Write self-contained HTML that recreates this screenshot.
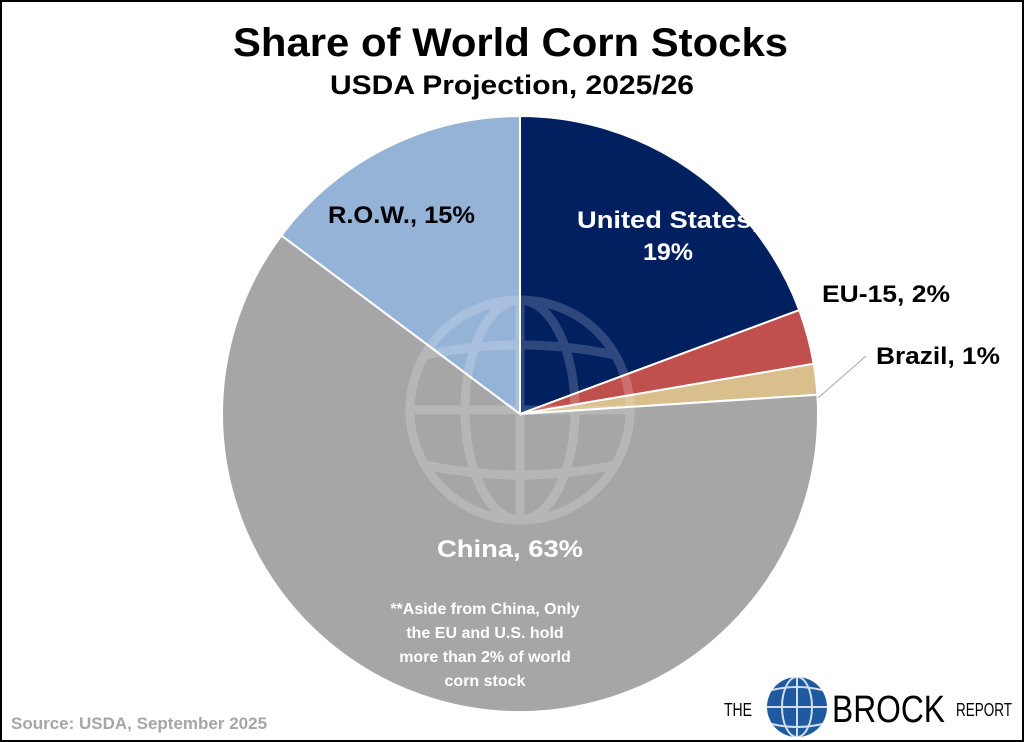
<!DOCTYPE html>
<html><head><style>
body{margin:0;background:#fff;}
svg{display:block;font-family:"Liberation Sans",sans-serif;}
</style></head><body>
<svg width="1024" height="742" viewBox="0 0 1024 742">
<rect x="1" y="1" width="1022" height="740" fill="#fff" stroke="#000" stroke-width="2"/>
<text x="233" y="56" font-size="40" font-weight="bold" textLength="555" lengthAdjust="spacingAndGlyphs">Share of World Corn Stocks</text>
<text x="330" y="94" font-size="27" font-weight="bold" textLength="364" lengthAdjust="spacingAndGlyphs">USDA Projection, 2025/26</text>
<g stroke="#fff" stroke-width="2">
<path d="M520,414 L520,116 A298,298 0 0 1 799.3,310.1 Z" fill="#002060"/>
<path d="M520,414 L799.3,310.1 A298,298 0 0 1 813.7,363.8 Z" fill="#c0504d"/>
<path d="M520,414 L813.7,363.8 A298,298 0 0 1 817.4,394.8 Z" fill="#d9bf8c"/>
<path d="M520,414 L817.4,394.8 A298,298 0 1 1 281.4,235.5 Z" fill="#a6a6a6"/>
<path d="M520,414 L281.4,235.5 A298,298 0 0 1 520,116 Z" fill="#95b3d7"/>
</g>
<g opacity="0.18" fill="none" stroke="#fff" stroke-width="9">
<circle cx="520" cy="410" r="110"/>
<ellipse cx="520" cy="410" rx="55" ry="110"/>
<line x1="520" y1="300" x2="520" y2="520"/>
<line x1="410" y1="410" x2="630" y2="410"/>
<path d="M425,355 Q520,335 615,355"/>
<path d="M425,465 Q520,485 615,465"/>
</g>
<line x1="818" y1="398" x2="866" y2="356" stroke="#a6a6a6" stroke-width="1"/>
<g font-weight="bold" font-size="24">
<text x="577" y="228" fill="#fff" textLength="182" lengthAdjust="spacingAndGlyphs">United States,</text>
<text x="643" y="260" fill="#fff" textLength="50" lengthAdjust="spacingAndGlyphs">19%</text>
<text x="822" y="302" fill="#000" textLength="128" lengthAdjust="spacingAndGlyphs">EU-15, 2%</text>
<text x="876" y="364" fill="#000" textLength="124" lengthAdjust="spacingAndGlyphs">Brazil, 1%</text>
<text x="328" y="223" fill="#000" textLength="147" lengthAdjust="spacingAndGlyphs">R.O.W., 15%</text>
<text x="437" y="557" fill="#fff" textLength="146" lengthAdjust="spacingAndGlyphs">China, 63%</text>
</g>
<g font-weight="bold" font-size="16" fill="#fff" text-anchor="middle">
<text x="485" y="614">**Aside from China, Only</text>
<text x="485" y="638">the EU and U.S. hold</text>
<text x="485" y="662">more than 2% of world</text>
<text x="485" y="686">corn stock</text>
</g>
<text x="11" y="729" font-size="17" font-weight="bold" fill="#a6a6a6">Source: USDA, September 2025</text>
<text x="724" y="716" font-size="18" fill="#000" textLength="28" lengthAdjust="spacingAndGlyphs">THE</text>
<circle cx="797" cy="707" r="30" fill="#1f5aa0"/>
<g stroke="#fff" stroke-width="2" fill="none" opacity="0.8">
<ellipse cx="797" cy="707" rx="15" ry="30"/><line x1="797" y1="677" x2="797" y2="737"/><line x1="767" y1="707" x2="827" y2="707"/>
<path d="M772,690 Q797,684 822,690"/><path d="M772,724 Q797,730 822,724"/>
</g>
<text x="832" y="722" font-size="38" fill="#000" textLength="113" lengthAdjust="spacingAndGlyphs">BROCK</text>
<text x="956" y="716" font-size="18" fill="#000" textLength="56" lengthAdjust="spacingAndGlyphs">REPORT</text>
</svg>
</body></html>
